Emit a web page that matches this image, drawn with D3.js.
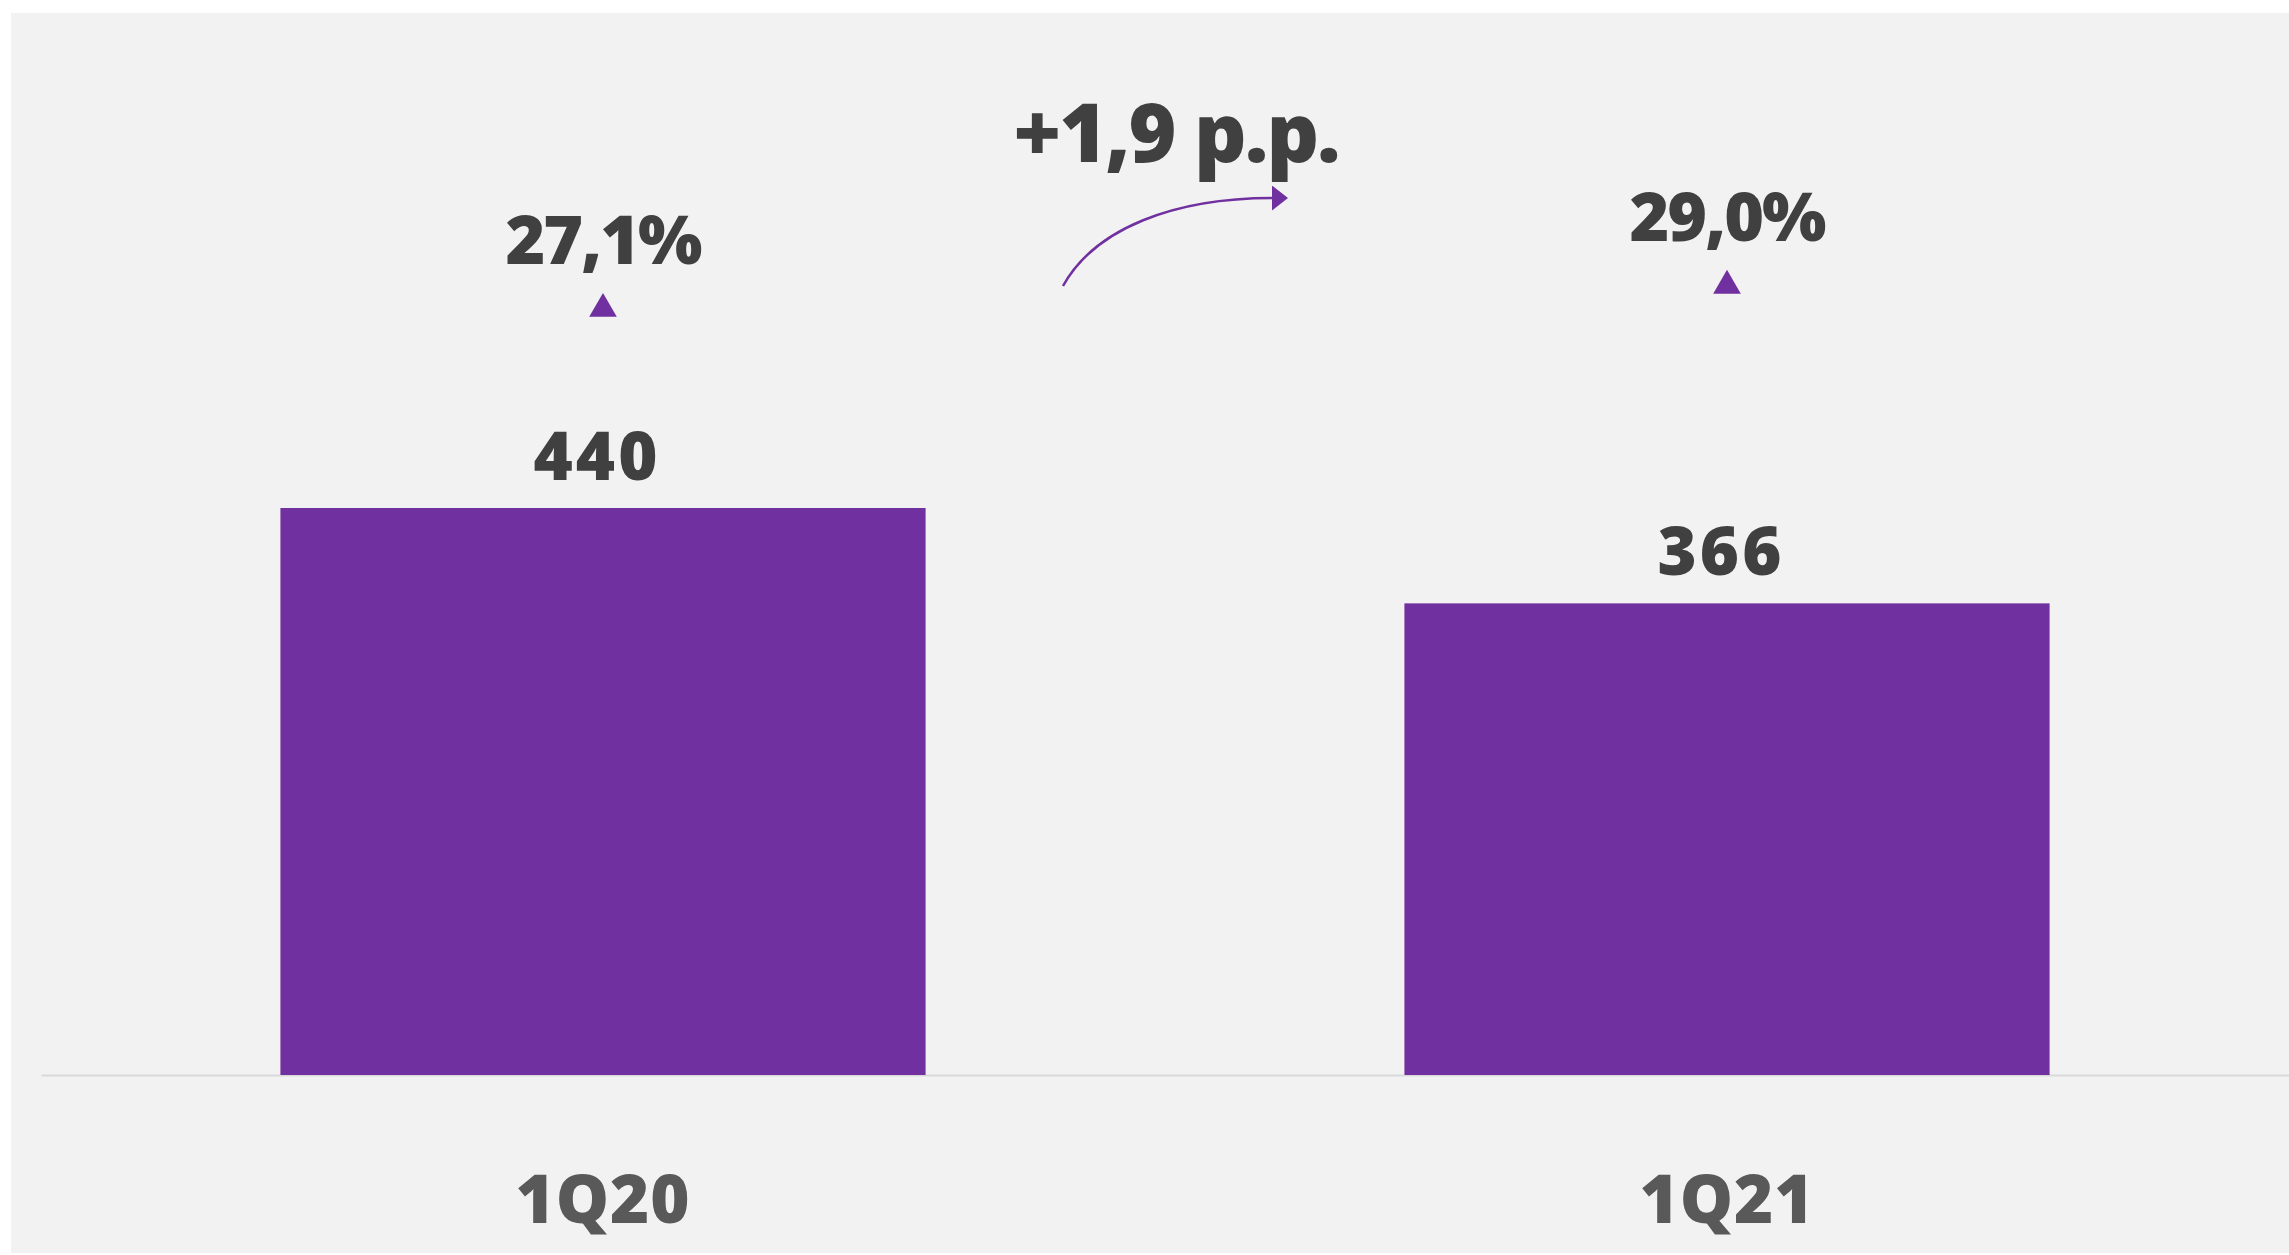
<!DOCTYPE html>
<html>
<head>
<meta charset="utf-8">
<script src="https://cdn.jsdelivr.net/npm/d3@7"></script>
<style>
  html, body { margin: 0; padding: 0; background: #ffffff; }
  svg { display: block; }
  text { font-family: "Open Sans", "Noto Sans", sans-serif; font-weight: 800; }
</style>
</head>
<body>
<svg id="chart" width="2289" height="1255"></svg>
<script>
const categories = ["1Q20", "1Q21"];
const values = [440, 366];
const margins = [27.1, 29.0];
const valueLabels = ["440", "366"];
const marginLabels = ["27,1%", "29,0%"];
const deltaLabel = "+1,9 p.p.";

const W = 2289, H = 1255;
const svg = d3.select("#chart");
const purple = "#7030a0";

svg.append("rect").attr("x", 11).attr("y", 13).attr("width", W - 11).attr("height", H - 15)
  .attr("fill", "#f2f2f2");

const x = d3.scaleBand().domain(categories).range([41, W])
  .paddingInner(0.426).paddingOuter(0.213);
const y = d3.scaleLinear().domain([0, 440]).range([1075, 508]);
const y2 = d3.scaleLinear().domain([20, 35]).range([395, 213]);

// axis
const axis = d3.axisBottom(x).tickSize(0).tickPadding(0);
const gAxis = svg.append("g").attr("transform", `translate(0,${y(0)})`).call(axis);
gAxis.select(".domain").attr("stroke", "#d9d9d9").attr("stroke-width", 2);
gAxis.selectAll("text")
  .attr("y", 148).attr("dy", 0)
  .attr("fill", "#595959")
  .style("font-size", "67px")
  .style("font-family", "\"Open Sans\", sans-serif")
  .style("font-weight", 800)
  .style("letter-spacing", "1px");

// bars
svg.append("g").selectAll("rect").data(values).join("rect")
  .attr("x", (d, i) => x(categories[i]))
  .attr("width", x.bandwidth())
  .attr("y", d => y(d))
  .attr("height", d => y(0) - y(d))
  .attr("fill", purple);

// value labels
svg.append("g").selectAll("text").data(values).join("text")
  .attr("x", (d, i) => x(categories[i]) + x.bandwidth() / 2 - 6)
  .attr("y", d => y(d) - 28)
  .attr("text-anchor", "middle")
  .attr("fill", "#404040")
  .style("font-size", "67px")
  .style("letter-spacing", "3px")
  .text((d, i) => valueLabels[i]);

// triangle markers (margin series)
const tri = d3.symbol().type(d3.symbolTriangle).size(330);
svg.append("g").selectAll("path").data(margins).join("path")
  .attr("transform", (d, i) => `translate(${x(categories[i]) + x.bandwidth() / 2},${y2(d)})`)
  .attr("d", tri)
  .attr("fill", purple);

// margin labels
svg.append("g").selectAll("text").data(margins).join("text")
  .attr("x", (d, i) => x(categories[i]) + x.bandwidth() / 2)
  .attr("y", d => y2(d) - 45)
  .attr("text-anchor", "middle")
  .attr("fill", "#404040")
  .style("font-size", "68px")
  .style("letter-spacing", "-2px")
  .text((d, i) => marginLabels[i]);

// delta annotation
svg.append("text")
  .attr("x", 1176).attr("y", 162)
  .attr("text-anchor", "middle")
  .attr("fill", "#404040")
  .style("font-size", "82px")
  .style("letter-spacing", "-2px")
  .text(deltaLabel);

svg.append("defs").append("marker")
  .attr("id", "arrow").attr("viewBox", "0 0 10 10")
  .attr("preserveAspectRatio", "none")
  .attr("refX", 0).attr("refY", 5)
  .attr("markerWidth", 16).attr("markerHeight", 25)
  .attr("markerUnits", "userSpaceOnUse")
  .attr("orient", "auto")
  .append("path").attr("d", "M0,0 L10,5 L0,10 Z").attr("fill", purple);

svg.append("path")
  .attr("d", "M1063,286 C1095,228 1175,198 1272,198")
  .attr("fill", "none")
  .attr("stroke", purple)
  .attr("stroke-width", 2.5)
  .attr("marker-end", "url(#arrow)");
</script>
</body>
</html>
